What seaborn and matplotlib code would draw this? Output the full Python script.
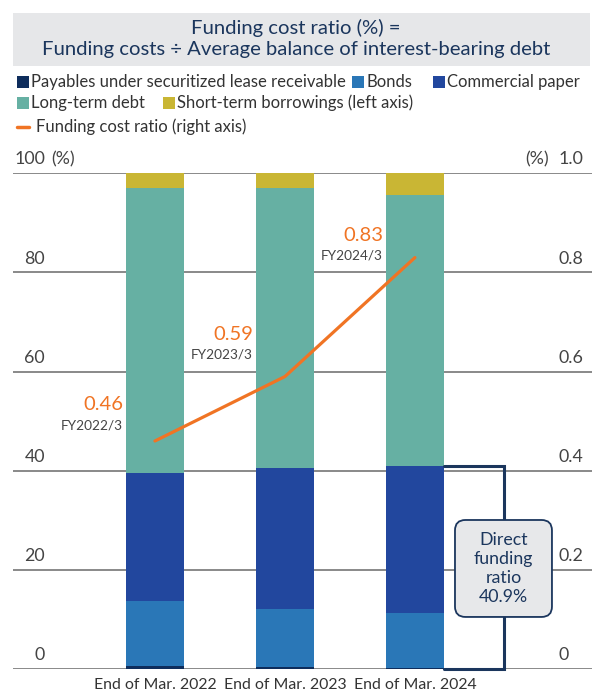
import pandas as pd
import numpy as np
import matplotlib
matplotlib.use("Agg")
import matplotlib.pyplot as plt
import seaborn as sns
from matplotlib.patches import Rectangle, FancyBboxPatch

# Dados
periodos = ["End of Mar. 2022", "End of Mar. 2023", "End of Mar. 2024"]
fy_labels = ["FY2022/3", "FY2023/3", "FY2024/3"]
payables = [0.6, 0.4, 0.3]
bonds = [13.2, 11.7, 10.9]
commercial_paper = [25.8, 28.4, 29.7]
long_term = [57.5, 56.6, 54.7]
short_term = [2.9, 2.9, 4.4]
funding_cost = [0.46, 0.59, 0.83]
direct_ratio = "40.9%"

segmentos = ["Payables under securitized lease receivable", "Bonds", "Commercial paper",
             "Long-term debt", "Short-term borrowings (left axis)"]
cores = ["#0E2D5C", "#2A77B7", "#22479E", "#66B0A3", "#C9B634"]
laranja = "#F07424"
navy = "#1B365D"
cinza = "#808080"

# deslocamento vertical dos rotulos da linha (eixo direito)
desloc_valor = [0.073, 0.084, 0.045]
desloc_fy = [0.032, 0.045, 0.005]

sns.set_style("white")
plt.rcParams["font.family"] = ["Lato", "DejaVu Sans"]

fig = plt.figure(figsize=(5.92, 6.93), dpi=100)
ax = fig.add_axes([13 / 592, 1 - 669 / 693, 579 / 592, (669 - 173.3) / 693])

# Barras empilhadas: desenha os totais acumulados de cima para baixo
df = pd.DataFrame({"periodo": periodos, "p": payables, "b": bonds, "cp": commercial_paper,
                   "lt": long_term, "st": short_term})
cols = ["p", "b", "cp", "lt", "st"]
acum = df[cols].cumsum(axis=1)
for col, cor in reversed(list(zip(cols, cores))):
    sns.barplot(x=df["periodo"], y=acum[col], color=cor, saturation=1, width=0.44,
                linewidth=0, errorbar=None, ax=ax, zorder=3)

ax.set_xlim(-1.092, 3.362)
ax.set_ylim(0, 100)
ax.set_xlabel("")
ax.set_ylabel("")
ax.set_yticks([])
ax.set_xticks([])
for s in ax.spines.values():
    s.set_visible(False)

for v in range(0, 101, 20):
    ax.axhline(v, color=cinza, lw=1.3, zorder=1)
    ax.text(0.0553, v + 2.8, str(v), transform=ax.get_yaxis_transform(), ha="right",
            va="center", fontsize=12.8, color="#444444")
    ax.text(0.943, v + 2.8, f"{v / 100:.1f}" if v else "0", transform=ax.get_yaxis_transform(),
            ha="left", va="center", fontsize=12.8, color="#444444")
ax.text(0.066, 102.8, "(%)", transform=ax.get_yaxis_transform(), ha="left", va="center",
        fontsize=12.8, color="#444444")
ax.text(0.926, 102.8, "(%)", transform=ax.get_yaxis_transform(), ha="right", va="center",
        fontsize=12.8, color="#444444")

for i, p in enumerate(periodos):
    ax.text(i, -3.3, p, ha="center", va="center", fontsize=11.4, color="#333333", clip_on=False)

# Colchete do direct funding ratio
top_direct = payables[2] + bonds[2] + commercial_paper[2]
ax.plot([2.22, 2.685, 2.685, 2.22], [top_direct, top_direct, 0, 0], color=navy, lw=2.2,
        zorder=4, solid_joinstyle="miter", clip_on=False)
asp = 130 / 4.957
ax.add_patch(FancyBboxPatch((2.308, 10.5), 0.746, 19.56,
                            boxstyle="round,pad=0,rounding_size=0.08", mutation_aspect=asp,
                            fc="#E7E8EA", ec=navy, lw=1.3, zorder=6))
ax.text(2.681, 20.3, "Direct\nfunding\nratio\n" + direct_ratio, ha="center", va="center",
        fontsize=12.8, color=navy, linespacing=1.22, zorder=7)

# Linha do funding cost ratio (eixo direito)
ax2 = ax.twinx()
sns.lineplot(x=[0, 1, 2], y=funding_cost, color=laranja, lw=2.3, ax=ax2, zorder=5)
ax2.set_ylim(0, 1)
ax2.set_xlim(-1.092, 3.362)
ax2.set_yticks([])
for s in ax2.spines.values():
    s.set_visible(False)
for i, (v, fy) in enumerate(zip(funding_cost, fy_labels)):
    ax2.text(i - 0.245, v + desloc_valor[i], f"{v:.2f}", ha="right", va="center",
             fontsize=14.5, color=laranja)
    ax2.text(i - 0.245, v + desloc_fy[i], fy, ha="right", va="center", fontsize=9.8,
             color="#444444")

# Cabeçalho
fig.patches.append(Rectangle((13 / 592, 1 - 66 / 693), 577 / 592, 53 / 693,
                             transform=fig.transFigure, fc="#E6E7E9", ec="none"))
fig.text(0.5, 1 - 28 / 693, "Funding cost ratio (%) =", ha="center", va="center",
         fontsize=14.6, color=navy)
fig.text(0.5, 1 - 50 / 693, "Funding costs \u00f7 Average balance of interest-bearing debt",
         ha="center", va="center", fontsize=14.6, color=navy)

# Legenda manual
itens = [(17, 82, 0), (352, 82, 1), (433, 82, 2), (17, 103, 3), (163, 103, 4)]
for x, y, k in itens:
    fig.patches.append(Rectangle((x / 592, 1 - (y + 6) / 693), 12 / 592, 12 / 693,
                                 transform=fig.transFigure, fc=cores[k], ec="none"))
    fig.text((x + 14) / 592, 1 - y / 693, segmentos[k], ha="left", va="center",
             fontsize=12, color="#333333")
fig.lines.append(plt.Line2D([17 / 592, 29 / 592], [1 - 127 / 693, 1 - 127 / 693],
                            transform=fig.transFigure, color=laranja, lw=2.5))
fig.text(36 / 592, 1 - 127 / 693, "Funding cost ratio (right axis)", ha="left", va="center",
         fontsize=12, color="#333333")

fig.savefig("out.png", dpi=100)
